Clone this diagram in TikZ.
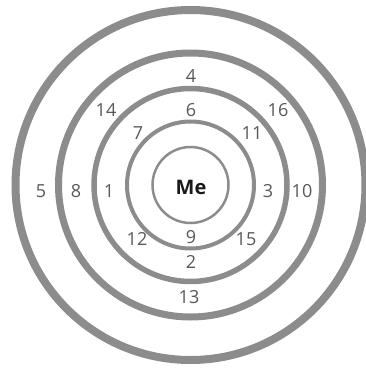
\documentclass[tikz,border=0pt]{standalone}
\usepackage{fontspec}
\setmainfont{Open Sans}
\definecolor{RingGrey}{RGB}{140,140,140}
\definecolor{LabelGrey}{RGB}{88,88,88}

\begin{document}
\begin{tikzpicture}[x=1pt, y=-1pt, font=\fontsize{18}{20}\selectfont, every node/.style={text=LabelGrey, inner sep=0pt}]
  \useasboundingbox (0,0) rectangle (366,370);
  \coordinate (ctr) at (190.5,185);
  % rings, from the inside out
  \draw[RingGrey, line width=2.5pt] (ctr) circle[radius=38pt];
  \draw[RingGrey, line width=4pt] (ctr) circle[radius=63.5pt];
  \draw[RingGrey, line width=5.5pt] (ctr) circle[radius=96.5pt];
  \draw[RingGrey, line width=7pt] (ctr) circle[radius=132pt];
  \draw[RingGrey, line width=8pt] (ctr) circle[radius=175pt];
  \node[font=\fontsize{20}{22}\selectfont\bfseries, text=black!90] (me) at (191,187) {Me};
  \node (n4) at (191,76) {4};
  \node (n14) at (106,110) {14};
  \node (n6) at (191,110) {6};
  \node (n16) at (278,110) {16};
  \node (n7) at (138,133) {7};
  \node (n11) at (252,133) {11};
  \node (n5) at (41,191) {5};
  \node (n8) at (76,191) {8};
  \node (n1) at (109,191) {1};
  \node (n3) at (268,191) {3};
  \node (n10) at (302,191) {10};
  \node (n12) at (137,239) {12};
  \node (n9) at (191,237) {9};
  \node (n15) at (246,239) {15};
  \node (n2) at (191,262) {2};
  \node (n13) at (189,297) {13};
\end{tikzpicture}
\end{document}
